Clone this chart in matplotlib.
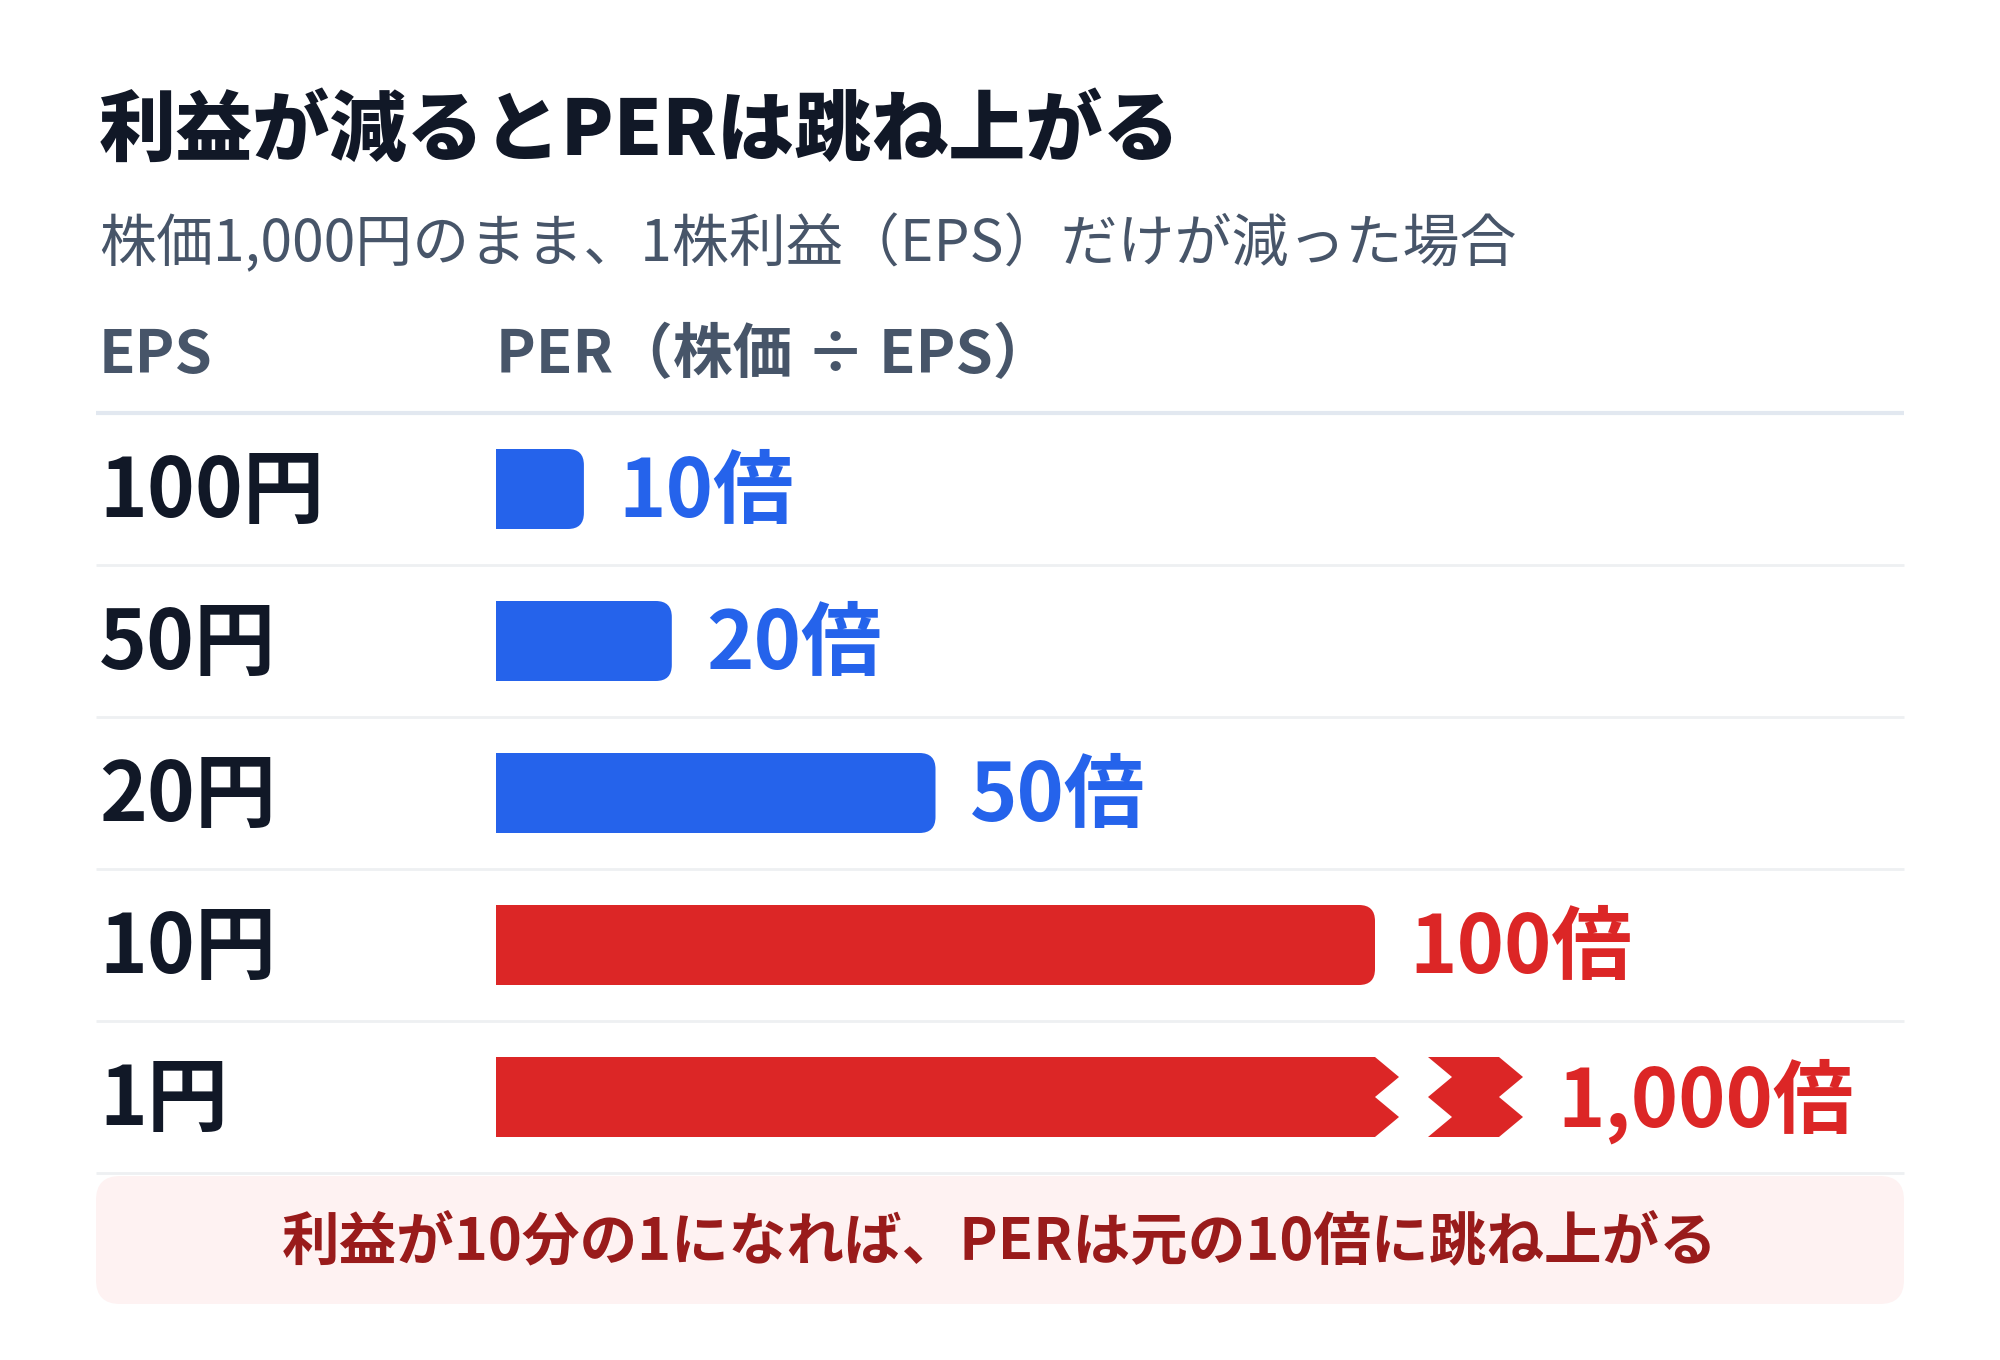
import matplotlib
matplotlib.use("Agg")
import matplotlib.pyplot as plt
from matplotlib.patches import FancyBboxPatch, Polygon
import matplotlib.transforms as mtransforms

plt.rcParams['font.family'] = ['Noto Sans CJK JP', 'DejaVu Sans']

# ---------------- data ----------------
title = "利益が減るとPERは跳ね上がる"
subtitle = "株価1,000円のまま、1株利益（EPS）だけが減った場合"
col_eps = "EPS"
col_per = "PER（株価 ÷ EPS）"
eps_values = [100, 50, 20, 10, 1]
per_values = [10, 20, 50, 100, 1000]
note = "利益が10分の1になれば、PERは元の10倍に跳ね上がる"
axis_cap = 100          # bars above this value are drawn with a break mark
warn_threshold = 100    # PER at or above this is shown in red

# ---------------- style ----------------
DARK = "#111827"
SLATE = "#475569"
BLUE = "#2563EB"
RED = "#DC2626"
SEP = "#EEF0F2"
HEAD_LINE = "#E2E8F0"
BOX_FC = "#FEF2F2"
BOX_TXT = "#991B1B"

W, H = 2000, 1360
fig = plt.figure(figsize=(W / 100, H / 100), dpi=100)
fig.patch.set_facecolor("white")

# background axes in pixel units for page furniture
bg = fig.add_axes([0, 0, 1, 1], zorder=0)
bg.set_xlim(0, W)
bg.set_ylim(H, 0)
bg.axis("off")

page_left, page_right = 96, 1904

# bar axes
px_per_unit = 8.79
left_px, right_px = 496, page_right
top_px, bot_px = 413, 1173
ax = fig.add_axes([left_px / W, 1 - bot_px / H, (right_px - left_px) / W, (bot_px - top_px) / H], zorder=1)
ax.set_xlim(0, (right_px - left_px) / px_per_unit)
n = len(eps_values)
ax.set_ylim(n - 0.5, -0.5)
ax.axis("off")
ax.patch.set_alpha(0)

blend = mtransforms.blended_transform_factory(bg.transData, ax.transData)

# titles
bg.text(99, 132, title, fontsize=55.5, fontweight="heavy", color=DARK, ha="left", va="center")
bg.text(99, 244, subtitle, fontsize=41, color=SLATE, ha="left", va="center")
bg.text(99, 356, col_eps, fontsize=43, fontweight="bold", color=SLATE, ha="left", va="center")
bg.text(left_px, 356, col_per, fontsize=43, fontweight="bold", color=SLATE, ha="left", va="center")

# header line and separators
ax.plot([page_left, page_right], [-0.5, -0.5], transform=blend, color=HEAD_LINE, lw=3.0,
        clip_on=False, solid_capstyle="butt")
for i in range(n):
    ax.plot([page_left, page_right], [i + 0.5, i + 0.5], transform=blend, color=SEP, lw=2.0,
            clip_on=False, solid_capstyle="butt")

row_px = (bot_px - top_px) / n
bar_h = 80 / row_px
r_units = 16 / px_per_unit
m_aspect = (16 / row_px) / r_units
d = 24 / px_per_unit                  # zigzag depth
gap_units = 53 / px_per_unit          # gap of the break
seg_units = 71 / px_per_unit          # width of the piece after the break

label_tf = mtransforms.offset_copy(ax.transData, fig=fig, x=34, y=-4, units="dots")
row_tf = mtransforms.offset_copy(blend, fig=fig, x=0, y=-4, units="dots")

for i, (eps, per) in enumerate(zip(eps_values, per_values)):
    color = RED if per >= warn_threshold else BLUE
    t = i - bar_h / 2
    b = i + bar_h / 2
    q1 = t + bar_h / 4
    mid = i
    q3 = t + 3 * bar_h / 4
    if per <= axis_cap:
        ax.barh(i, per - r_units, height=bar_h, left=0, color=color, linewidth=0)
        ax.add_patch(FancyBboxPatch((0, t), per, bar_h,
                                    boxstyle=f"round,pad=0,rounding_size={r_units}",
                                    mutation_aspect=m_aspect, fc=color, ec="none"))
        end = per
    else:
        c = axis_cap
        ax.add_patch(Polygon([(0, t), (c, t), (c + d, q1), (c, mid), (c + d, q3), (c, b), (0, b)],
                             closed=True, fc=color, ec="none"))
        L = c + gap_units
        R = L + seg_units
        ax.add_patch(Polygon([(L, t), (R, t), (R + d, q1), (R, mid), (R + d, q3), (R, b),
                              (L, b), (L + d, q3), (L, mid), (L + d, q1)],
                             closed=True, fc=color, ec="none"))
        end = R + d
    ax.text(end, i, f"{per:,}倍", transform=label_tf, fontsize=58, fontweight="bold",
            color=color, ha="left", va="center")
    ax.text(99, i, f"{eps}円", transform=row_tf, fontsize=58.5, fontweight="bold",
            color=DARK, ha="left", va="center")

# note box
bg.add_patch(FancyBboxPatch((page_left, 1176), page_right - page_left, 128,
                            boxstyle="round,pad=0,rounding_size=24", fc=BOX_FC, ec="none"))
bg.text((page_left + page_right) / 2, 1242, note, fontsize=41.5, fontweight="bold", color=BOX_TXT,
        ha="center", va="center")

fig.savefig("out.png", dpi=100, facecolor="white")
